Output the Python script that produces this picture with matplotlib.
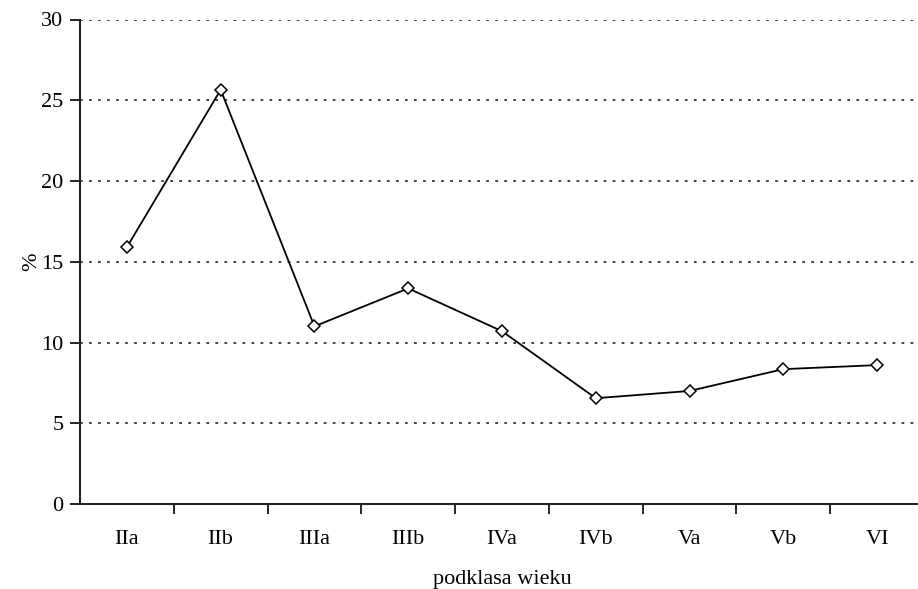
import numpy as np
import matplotlib.pyplot as plt
from matplotlib.ticker import FixedLocator

# data
categories = ['IIa', 'IIb', 'IIIa', 'IIIb', 'IVa', 'IVb', 'Va', 'Vb', 'VI']
values = [15.9, 25.65, 11.0, 13.35, 10.7, 6.55, 7.0, 8.35, 8.6]
yticks = [0, 5, 10, 15, 20, 25, 30]

plt.rcParams['font.family'] = ['Liberation Serif', 'DejaVu Serif']

fig = plt.figure(figsize=(9.18, 5.89), dpi=100)
ax = fig.add_axes([80/918, 85/589, 844/918, 484.5/589])

x = np.arange(len(categories))
ax.plot(x, values, color='black', lw=1.3, marker='D', markersize=6,
        markerfacecolor='white', markeredgecolor='black', markeredgewidth=1.1,
        zorder=3)

ax.set_xlim(-0.5, len(categories) - 0.5)
ax.set_ylim(0, 30)
ax.set_yticks(yticks)
ax.set_xticks(x)
ax.set_xticklabels(categories)
ax.xaxis.set_minor_locator(FixedLocator(np.arange(0.5, len(categories) - 0.5, 1)))

for yv in yticks[1:]:
    ax.axhline(yv, color='#333333', lw=1.3, ls=(0, (1.5, 3.5)), zorder=1)

for s in ['top', 'right']:
    ax.spines[s].set_visible(False)
for s in ['left', 'bottom']:
    ax.spines[s].set_linewidth(1.5)
    ax.spines[s].set_color('#222222')

ax.tick_params(axis='x', which='major', length=0, pad=19, labelsize=16)
ax.tick_params(axis='x', which='minor', length=7, width=1.2, direction='out')
ax.tick_params(axis='y', length=7, width=1.2, direction='out', pad=5, labelsize=16)

ax.set_xlabel('podklasa wieku', fontsize=16, labelpad=15)
ax.set_ylabel('%', fontsize=16, labelpad=0)

fig.savefig('out.png', dpi=100)
